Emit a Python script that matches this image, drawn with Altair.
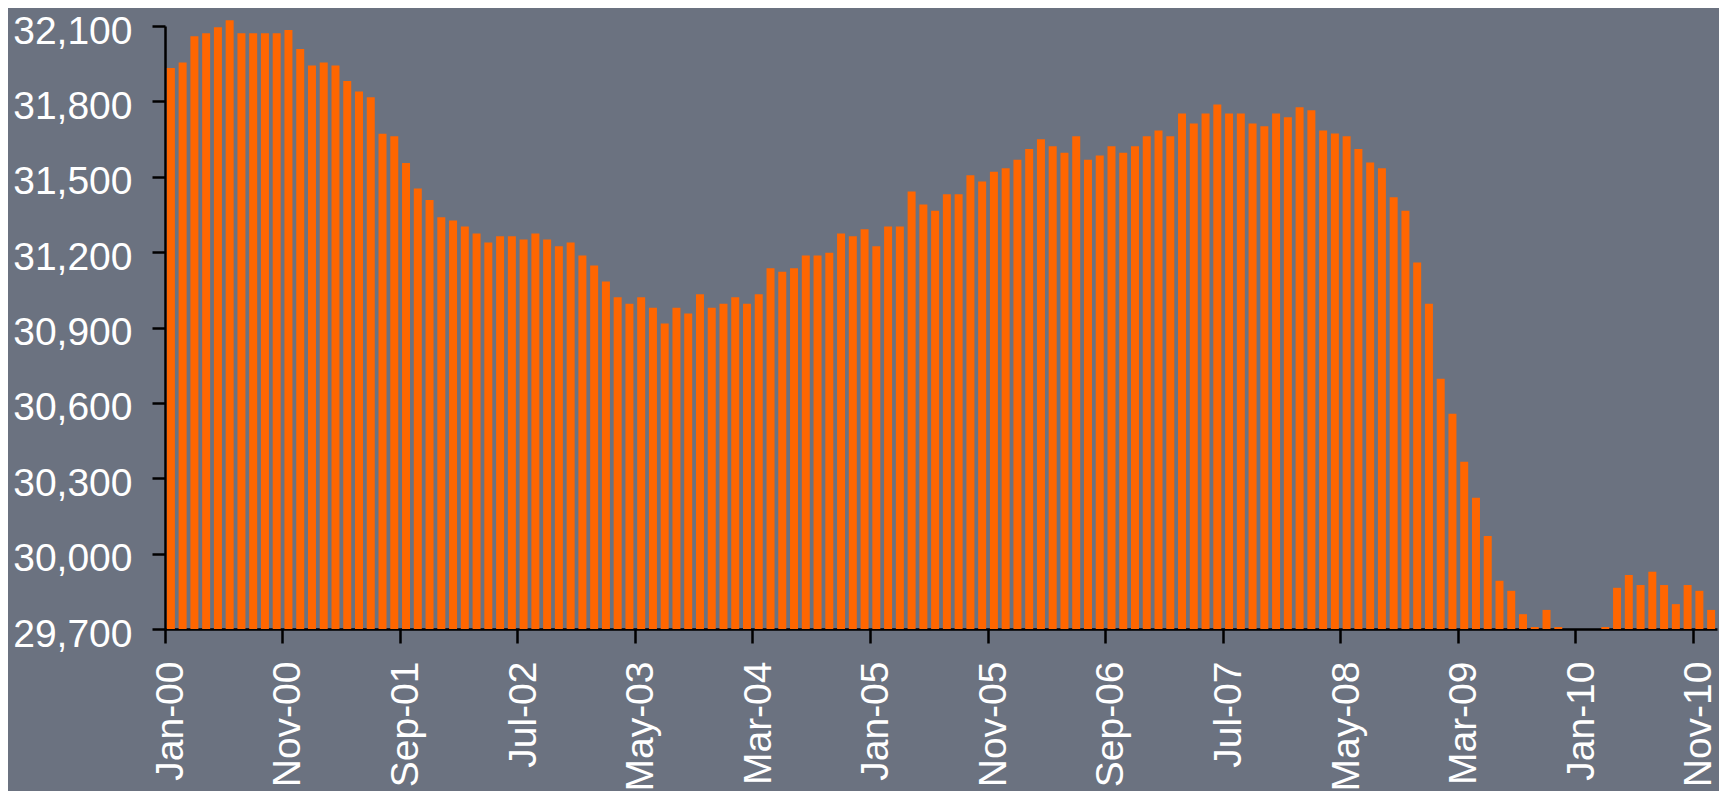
import altair as alt
import pandas as pd

MONTH_NAMES = ["Jan", "Feb", "Mar", "Apr", "May", "Jun",
               "Jul", "Aug", "Sep", "Oct", "Nov", "Dec"]
YEARS = ["00", "01", "02", "03", "04", "05", "06", "07", "08", "09", "10"]
MONTHS = [f"{m}-{y}" for y in YEARS for m in MONTH_NAMES]

VALUES = [
    31933, 31955, 32059, 32071, 32095, 32123, 32071, 32071, 32071, 32071,
    32084, 32008, 31943, 31955, 31943, 31881, 31839, 31816, 31671, 31661,
    31555, 31453, 31407, 31339, 31326, 31302, 31274, 31238, 31263, 31263,
    31250, 31274, 31250, 31223, 31238, 31187, 31147, 31083, 31020, 30995,
    31020, 30979, 30916, 30979, 30956, 31032, 30979, 30995, 31020, 30995,
    31032, 31136, 31122, 31136, 31187, 31187, 31198, 31274, 31263, 31291,
    31223, 31302, 31302, 31441, 31390, 31365, 31430, 31430, 31506, 31481,
    31520, 31534, 31568, 31610, 31649, 31621, 31596, 31661, 31568, 31585,
    31621, 31596, 31621, 31661, 31684, 31661, 31752, 31712, 31752, 31788,
    31752, 31752, 31712, 31701, 31752, 31737, 31777, 31765, 31684, 31672,
    31661, 31610, 31557, 31534, 31418, 31365, 31159, 30995, 30696, 30557,
    30366, 30222, 30070, 29892, 29852, 29759, 29708, 29776, 29708, 29700,
    29700, 29700, 29708, 29864, 29915, 29875, 29928, 29875, 29799, 29875,
    29852, 29776,
]

X_TICKS = ["Jan-00", "Nov-00", "Sep-01", "Jul-02", "May-03", "Mar-04", "Jan-05",
           "Nov-05", "Sep-06", "Jul-07", "May-08", "Mar-09", "Jan-10", "Nov-10"]
Y_TICKS = [29700, 30000, 30300, 30600, 30900, 31200, 31500, 31800, 32100]
Y_MIN, Y_MAX = 29700, 32100

BG = "#6B7280"
BAR = "#FF6600"

df = pd.DataFrame({"month": MONTHS, "value": VALUES})

chart = (
    alt.Chart(df)
    .mark_bar(color=BAR, width=alt.RelativeBandSize(0.68))
    .encode(
        x=alt.X(
            "month:O",
            sort=None,
            scale=alt.Scale(paddingInner=0, paddingOuter=0),
            axis=alt.Axis(
                title=None,
                values=X_TICKS,
                bandPosition=0,
                labelAngle=-90,
                labelAlign="right",
                labelBaseline="middle",
                labelFont="Liberation Sans",
                labelFontSize=39,
                labelColor="white",
                labelPadding=18,
                tickSize=14,
                tickWidth=2.5,
                tickColor="black",
                domainColor="black",
                domainWidth=2.5,
                labelOverlap=False,
                grid=False,
            ),
        ),
        y=alt.Y(
            "value:Q",
            scale=alt.Scale(domain=[Y_MIN, Y_MAX], zero=False, nice=False),
            axis=alt.Axis(
                title=None,
                values=Y_TICKS,
                format=",.0f",
                labelFont="Liberation Sans",
                labelFontSize=39,
                labelColor="white",
                labelPadding=20,
                labelOffset=5,
                tickSize=13,
                tickWidth=2.5,
                tickColor="black",
                domainColor="black",
                domainWidth=2.5,
                labelOverlap=False,
                grid=False,
            ),
        ),
        y2=alt.datum(Y_MIN),
    )
    .properties(
        width=1552,
        height=603,
        autosize="none",
        padding={"left": 157, "top": 18, "right": 2, "bottom": 162},
        background=BG,
        usermeta={"embedOptions": {"defaultStyle": "body{background:" + BG + ";}"}},
    )
    .configure_view(stroke=None)
)

chart.save("out.html", embed_options={"renderer": "svg", "actions": False})
